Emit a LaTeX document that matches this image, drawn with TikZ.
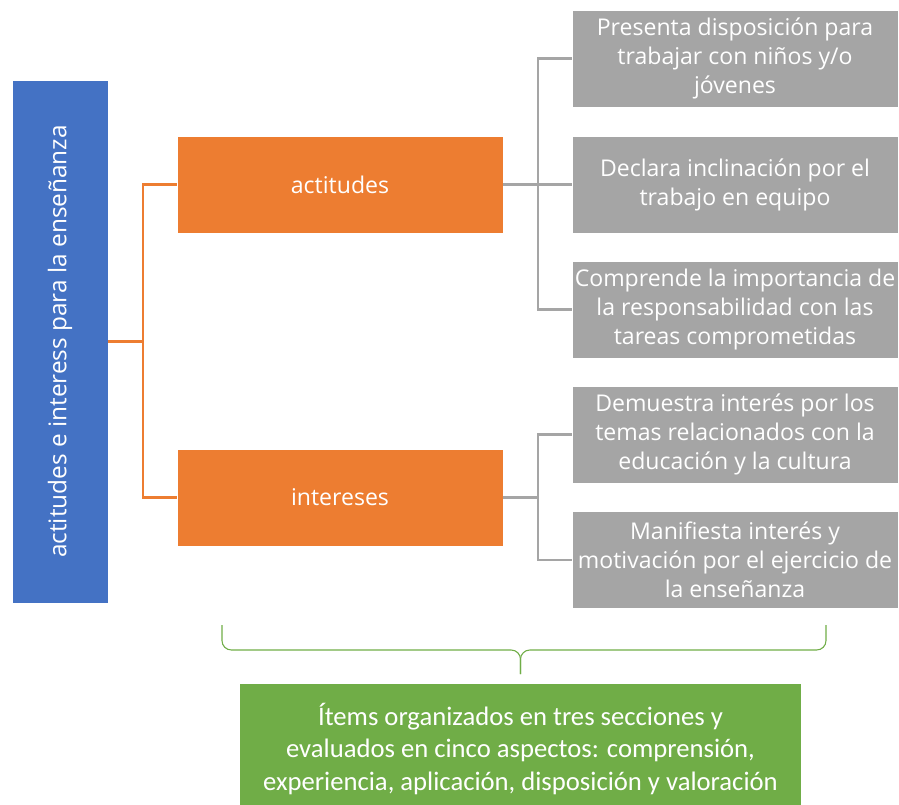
\documentclass[tikz,border=0pt]{standalone}
\usepackage{fontspec}
\setmainfont{Open Sans}
\newfontfamily\notefont{Carlito}
\usetikzlibrary{positioning}
\definecolor{bluebox}  {RGB}{68, 114, 196}
\definecolor{orangebox}{RGB}{237, 125, 49}
\definecolor{graybox}  {RGB}{165, 165, 165}
\definecolor{greenbox} {RGB}{112, 173, 71}

\begin{document}
\begin{tikzpicture}[x=0.75pt, y=-0.75pt,
  root/.style={fill=bluebox, draw=white, line width=0.4pt, rotate=90, minimum width=523*0.75pt, minimum height=96*0.75pt, inner sep=0pt, text=white, font=\fontsize{18.3}{22}\selectfont},
  branch/.style={fill=orangebox, draw=white, line width=0.4pt, minimum width=326*0.75pt, minimum height=97*0.75pt, inner sep=0pt, text=white, font=\fontsize{17.3}{21.75}\selectfont},
  leaf/.style={fill=graybox, draw=white, line width=0.4pt, minimum width=326*0.75pt, minimum height=97*0.75pt, inner sep=0pt, align=center, text=white, font=\fontsize{17.3}{21.75}\selectfont},
  note/.style={fill=greenbox, minimum width=561*0.75pt, minimum height=130*0.75pt, inner sep=0pt, align=center, text=white, font=\notefont\fontsize{20}{24.5}\selectfont},
  olink/.style={draw=orangebox, line width=1.7pt},
  glink/.style={draw=graybox, line width=1.7pt},
  brace/.style={draw=greenbox, line width=0.8pt, rounded corners=7pt}
]
  \useasboundingbox (0,0) rectangle (899,805);

  % Nodes
  \node[root] (R) at (60,341.5) {actitudes e interess para la enseñanza};
  \node[branch] (A) at (340,184.5) {actitudes};
  \node[branch] (I) at (340,497.5) {intereses};

  \node[leaf] (A1) at (735,58.5)  {Presenta disposición para\\trabajar con niños y/o\\jóvenes};
  \node[leaf] (A2) at (735,184.5) {Declara inclinación por el\\trabajo en equipo};
  \node[leaf] (A3) at (735,309.5) {Comprende la importancia de\\la responsabilidad con las\\tareas comprometidas};
  \node[leaf] (I1) at (735,434.5) {Demuestra interés por los\\temas relacionados con la\\educación y la cultura};
  \node[leaf] (I2) at (735,560)   {Manifiesta interés y\\motivación por el ejercicio de\\la enseñanza};

  % the note runs on past the lower edge
  \node[note] (N) at (520.5,749) {Ítems organizados en tres secciones y\\evaluados en cinco aspectos: comprensión,\\experiencia, aplicación, disposición y valoración};

  % Links
  \draw[olink] (R.south) -- ++(35,0) coordinate (r) |- (A.west);
  \draw[olink] (r) |- (I.west);

  \draw[glink] (A.east) -- ++(35,0) coordinate (a) |- (A1.west);
  \draw[glink] (a) -- (A2.west);
  \draw[glink] (a) |- (A3.west);

  \draw[glink] (I.east) -- ++(35,0) coordinate (i) |- (I1.west);
  \draw[glink] (i) |- (I2.west);

  % Brace over the note
  \coordinate (tip) at (N.north |- 0,674);
  \draw[brace] (222,625) -- (222,650) -- (tip |- 0,650) -- (tip);
  \draw[brace] (826,625) -- (826,650) -- (tip |- 0,650) -- (tip);
\end{tikzpicture}
\end{document}
